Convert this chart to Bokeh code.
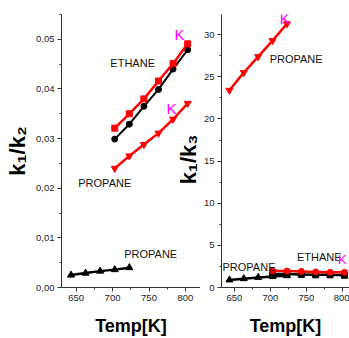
import math
from bokeh.plotting import figure
from bokeh.layouts import row
from bokeh.models import Range1d, FixedTicker, Label
from bokeh.embed import file_html
from bokeh.resources import INLINE

# ---------------- data ----------------
eth_T = [703, 723, 743, 763, 783, 803]
prop_T = [643, 663, 683, 703, 723]

# left panel: k1/k2
k12_eth_red = [0.0321, 0.0350, 0.0380, 0.0416, 0.0451, 0.0491]
k12_eth_black = [0.0299, 0.0329, 0.0365, 0.0399, 0.0440, 0.0479]
k12_prop_red = [0.0240, 0.0265, 0.0288, 0.0311, 0.0339, 0.0371]
k12_prop_black = [0.0025, 0.0029, 0.0033, 0.0036, 0.0040]

# right panel: k1/k3
k13_prop_red = [23.4, 25.5, 27.4, 29.3, 31.3]
k13_prop_black = [0.9, 1.05, 1.2, 1.3, 1.4]
k13_eth_red = [2.0, 1.95, 1.9, 1.85, 1.8, 1.8]
k13_eth_black = [1.6, 1.6, 1.55, 1.5, 1.5, 1.45]

x_ticks = [650, 700, 750, 800]
x_tick_labels = ["650", "700", "750", "800"]
left_y_ticks = [0.0, 0.01, 0.02, 0.03, 0.04, 0.05]
left_y_labels = ["0,00", "0,01", "0,02", "0,03", "0,04", "0,05"]
right_y_ticks = [0, 5, 10, 15, 20, 25, 30]
right_y_labels = ["0", "5", "10", "15", "20", "25", "30"]

TICK_FONT = "Liberation Sans"
LABEL_FONT = "Liberation Sans"
RED = "#ff0000"
MAG = "#ff00ff"


def mids(ticks):
    step = ticks[1] - ticks[0]
    return [ticks[0] - step / 2] + [t + step / 2 for t in ticks]


def style(p, yt, yl):
    p.outline_line_color = None
    p.grid.visible = False
    for ax in (p.xaxis[0], p.yaxis[0]):
        ax.axis_line_color = "#333333"
        ax.major_tick_line_color = "#333333"
        ax.minor_tick_line_color = "#333333"
        ax.major_tick_out = 4
        ax.major_tick_in = 0
        ax.minor_tick_out = 2
        ax.minor_tick_in = 0
        ax.major_label_text_font = TICK_FONT
        ax.major_label_text_font_size = "9.5px"
        ax.major_label_text_color = "#222222"
        ax.major_label_standoff = 3
        ax.axis_label_text_font = LABEL_FONT
        ax.axis_label_text_font_style = "bold"
        ax.axis_label_text_font_size = "18px"
        ax.axis_label_text_color = "#000000"
    p.xaxis[0].ticker = FixedTicker(ticks=x_ticks, minor_ticks=mids(x_ticks))
    p.xaxis[0].major_label_overrides = dict(zip(x_ticks, x_tick_labels))
    p.xaxis[0].axis_label = "Temp[K]"
    p.xaxis[0].axis_label_standoff = 12
    p.yaxis[0].ticker = FixedTicker(ticks=yt, minor_ticks=mids(yt))
    p.yaxis[0].major_label_overrides = dict(zip(yt, yl))


def lab(p, x, y, text, color="#111111", size="11px", angle=0, align="left", bold=False):
    p.add_layout(Label(x=x, y=y, text=text, text_color=color, text_font=LABEL_FONT,
                       text_font_size=size, text_baseline="middle", text_align=align,
                       angle=angle, text_font_style="bold" if bold else "normal"))


# ---------------- left figure ----------------
p1 = figure(width=200, height=338, x_range=Range1d(630, 820.6), y_range=Range1d(0, 0.055),
            output_backend="svg", toolbar_location=None,
            min_border_left=61, min_border_right=0, min_border_top=14, min_border_bottom=49)
style(p1, left_y_ticks, left_y_labels)
p1.yaxis[0].axis_label = "k\u2081/k\u2082"
p1.yaxis[0].axis_label_text_font_size = "22px"
p1.yaxis[0].axis_label_standoff = 3

p1.line(eth_T, k12_eth_black, line_color="black", line_width=2)
p1.scatter(eth_T, k12_eth_black, marker="circle", size=6, color="black")
p1.line(eth_T, k12_eth_red, line_color=RED, line_width=2.5)
p1.scatter(eth_T, k12_eth_red, marker="square", size=6, color=RED)
p1.line(eth_T, k12_prop_red, line_color=RED, line_width=2.5)
p1.scatter(eth_T, k12_prop_red, marker="inverted_triangle", size=7, color=RED)
p1.line(prop_T, k12_prop_black, line_color="black", line_width=2.5)
p1.scatter(prop_T, k12_prop_black, marker="triangle", size=7, color="black")

lab(p1, 697, 0.0452, "ETHANE")
lab(p1, 785, 0.0510, "K", color=MAG, size="15px")
lab(p1, 774, 0.0360, "K", color=MAG, size="15px")
lab(p1, 653, 0.0210, "PROPANE")
lab(p1, 716, 0.0068, "PROPANE")
lab(p1, 804, 0.0258, "k\u2081/k\u2083", color="#000000", size="22px", angle=math.pi / 2,
    align="center", bold=True)

# ---------------- right figure ----------------
p2 = figure(width=149, height=338, x_range=Range1d(632, 810), y_range=Range1d(0, 32.4),
            output_backend="svg", toolbar_location=None,
            min_border_left=19, min_border_right=0, min_border_top=14, min_border_bottom=49)
style(p2, right_y_ticks, right_y_labels)

p2.line(prop_T, k13_prop_red, line_color=RED, line_width=2.5)
p2.scatter(prop_T, k13_prop_red, marker="inverted_triangle", size=7, color=RED)
p2.line(prop_T, k13_prop_black, line_color="black", line_width=2.5)
p2.scatter(prop_T, k13_prop_black, marker="triangle", size=7, color="black")
p2.line(eth_T, k13_eth_black, line_color="black", line_width=2.5)
p2.scatter(eth_T, k13_eth_black, marker="square", size=6, color="black")
p2.line(eth_T, k13_eth_red, line_color=RED, line_width=2.5)
p2.scatter(eth_T, k13_eth_red, marker="circle", size=6, color=RED)

lab(p2, 699, 27.1, "PROPANE")
lab(p2, 713, 31.9, "K", color=MAG, size="15px")
lab(p2, 737, 3.6, "ETHANE")
lab(p2, 794, 3.3, "K", color=MAG, size="13px")
lab(p2, 633.4, 2.4, "PROPANE")

layout = row(p1, p2)
open("out.html", "w").write(file_html(layout, INLINE))
